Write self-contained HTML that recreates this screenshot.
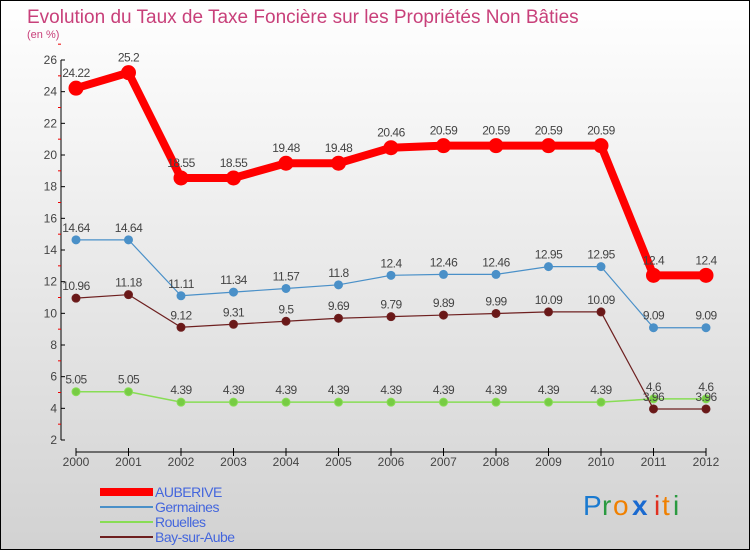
<!DOCTYPE html>
<html><head><meta charset="utf-8"><style>
body{margin:0;width:750px;height:550px;overflow:hidden;font-family:"Liberation Sans",sans-serif}
svg text{font-family:"Liberation Sans",sans-serif}
</style></head><body>
<svg id="c" width="750" height="550" xmlns="http://www.w3.org/2000/svg">
<defs><linearGradient id="bg" x1="0" y1="0" x2="0" y2="1"><stop offset="0" stop-color="#ffffff"/><stop offset="1" stop-color="#d2d2d2"/></linearGradient></defs>
<rect x="0.5" y="0.5" width="749" height="549" fill="url(#bg)" stroke="#000"/>
<text x="27" y="23" font-size="19" fill="#c8407a">Evolution du Taux de Taxe Foncière sur les Propriétés Non Bâties</text>
<text x="27" y="38" font-size="11" fill="#c8407a">(en %)</text>
<g id="axes"></g><g id="series"></g><g id="legend"></g>
<g font-size="28">
<text x="583" y="515" fill="#1a7ad0">P</text><text x="602" y="515" fill="#2a9a40">r</text><text x="613" y="515" fill="#f08000">o</text><text x="632" y="515" fill="#1a6ad0" font-weight="bold">x</text><text x="654" y="515" fill="#e03020">i</text><text x="662" y="515" fill="#f08000">t</text><text x="673" y="515" fill="#2a9a40">i</text>
</g>
</svg>
<script>
const years=[2000,2001,2002,2003,2004,2005,2006,2007,2008,2009,2010,2011,2012];
const auberive=[24.22,25.2,18.55,18.55,19.48,19.48,20.46,20.59,20.59,20.59,20.59,12.4,12.4];
const germaines=[14.64,14.64,11.11,11.34,11.57,11.8,12.4,12.46,12.46,12.95,12.95,9.09,9.09];
const rouelles=[5.05,5.05,4.39,4.39,4.39,4.39,4.39,4.39,4.39,4.39,4.39,4.6,4.6];
const bay=[10.96,11.18,9.12,9.31,9.5,9.69,9.79,9.89,9.99,10.09,10.09,3.96,3.96];
const yTicks=[2,4,6,8,10,12,14,16,18,20,22,24,26];
const NS="http://www.w3.org/2000/svg";
const X=i=>76+i*52.5, Y=v=>440-(v-2)*(380/24);
function mk(t,a,p){const e=document.createElementNS(NS,t);for(const k in a)e.setAttribute(k,a[k]);p.appendChild(e);return e;}
const ax=document.getElementById('axes');
let l=mk('line',{x1:61,y1:60,x2:61,y2:440,stroke:'#000'},ax);


yTicks.forEach(v=>{
  mk('line',{x1:61,y1:Y(v),x2:65,y2:Y(v),stroke:'#000'},ax);
  mk('line',{x1:58,y1:Y(v+1),x2:61,y2:Y(v+1),stroke:'#e00'},ax);
  const t=mk('text',{x:57,y:Y(v)+4,'font-size':12,'text-anchor':'end',fill:'#444'},ax);t.textContent=v;
  
  
});
l=mk('line',{x1:76,y1:452,x2:706,y2:452,stroke:'#000'},ax);


years.forEach((y,i)=>{
  mk('line',{x1:X(i),y1:448,x2:X(i),y2:456,stroke:'#000'},ax);
  const t=mk('text',{x:X(i),y:466,'font-size':12,'text-anchor':'middle',fill:'#444'},ax);t.textContent=y;
  
  
});
const sg=document.getElementById('series');
function series(vals,color,w,r,fill,name,dy){
  const g=mk('g',{},sg);
  
  
  mk('polyline',{points:vals.map((v,i)=>X(i)+','+Y(v)).join(' '),fill:'none',stroke:color,'stroke-width':w},g);
  vals.forEach((v,i)=>{
    const c=mk('circle',{cx:X(i),cy:Y(v),r:r,fill:fill,stroke:color,'stroke-width':1},g);
    
    
    const t=mk('text',{x:X(i),y:Y(v)-(dy||8),'font-size':12,'text-anchor':'middle',fill:'#444','letter-spacing':'-0.5'},g);t.textContent=v;
    
    
  });
}
series(rouelles,'#88dd55',1.5,4,'#77cc44','rouelles');
series(bay,'#6e2020',1.2,4,'#6a1818','bay-sur-aube');
series(germaines,'#4a90c8',1.2,4,'#4a90c8','germaines');
series(auberive,'#ff0000',8,7,'#ff0000','auberive',11);
const lg=document.getElementById('legend');
[['AUBERIVE','#ff0000',8],['Germaines','#4a90c8',2],['Rouelles','#88dd55',2],['Bay-sur-Aube','#6e2020',2]].forEach((d,i)=>{
  const y=492+i*15;
  const g=mk('g',{},lg);
  
  
  mk('line',{x1:100,y1:y,x2:153,y2:y,stroke:d[1],'stroke-width':d[2]},g);
  const t=mk('text',{x:155,y:y+5,'font-size':14,fill:'#4466dd','letter-spacing':'-0.5'},g);t.textContent=d[0];
});
</script>
</body></html>
